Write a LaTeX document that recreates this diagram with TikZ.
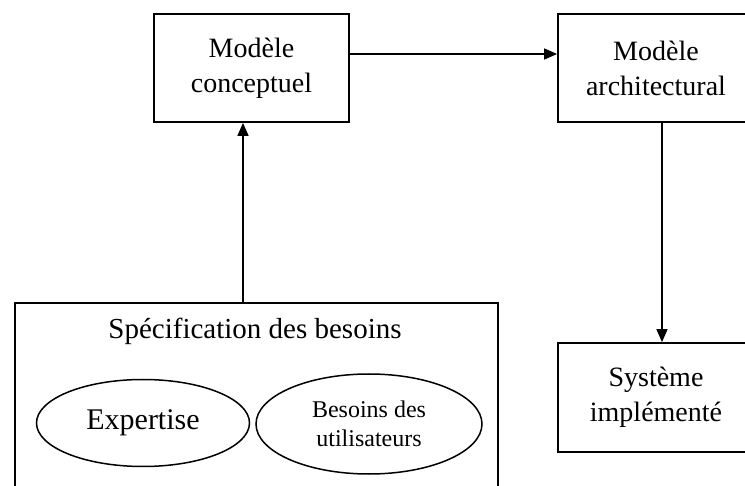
\documentclass[tikz,border=0pt]{standalone}
\usepackage{fontspec}
\setmainfont{Liberation Serif}
\usetikzlibrary{shapes.geometric,arrows.meta}
\begin{document}
\begin{tikzpicture}[x=1pt,y=-1pt,
  box/.style={draw,line width=1.8pt,rectangle,inner sep=0pt,align=center,
    font=\fontsize{28}{35}\selectfont},
  oval/.style={draw,line width=1.5pt,ellipse,inner sep=0pt,align=center},
  arr/.style={line width=1.6pt,-{Triangle[length=13pt,width=11pt]}}]
\clip (0,0) rectangle (745,486);
\fill[white] (0,0) rectangle (745,486);

% model boxes
\node[box,minimum width=195pt,minimum height=108pt] (conc) at (251.5,68) {Modèle\\conceptuel};
\node[box,minimum width=196pt,minimum height=108pt] (arch) at (656,68) {Modèle\\architectural};
\node[box,minimum width=196pt,minimum height=109pt] (sys) at (656,397.5) {Système\\implémenté};

% requirements frame with its two ovals
\node[box,minimum width=483pt,minimum height=210pt,anchor=north west] (spec) at (14,302) {};
\node[font=\fontsize{29}{34}\selectfont] (spectitle) at (255,331) {Spécification des besoins};
\node[oval,minimum width=213pt,minimum height=87pt,font=\fontsize{30}{34}\selectfont] (exp) at (143,423) {Expertise};
\node[oval,minimum width=226pt,minimum height=100pt,font=\fontsize{24}{29}\selectfont] (bes) at (369,424) {Besoins des\\utilisateurs};

% connectors
\coordinate (upx) at (243,0);
\coordinate (hy) at (0,54);
\coordinate (dnx) at (662,0);
\draw[arr] (spec.north -| upx) -- (conc.south -| upx);
\draw[arr] (conc.east |- hy) -- (arch.west |- hy);
\draw[arr] (arch.south -| dnx) -- (sys.north -| dnx);
\end{tikzpicture}
\end{document}
